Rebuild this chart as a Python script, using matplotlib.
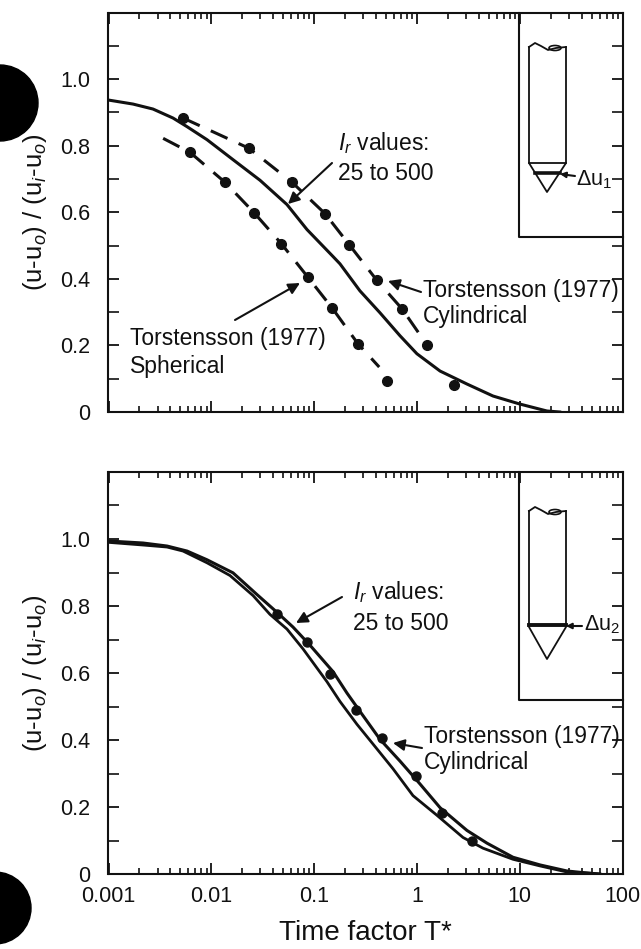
"""Piezocone dissipation curves, two panels (scanned figure style)."""

import matplotlib
matplotlib.use("Agg")
import matplotlib.pyplot as plt
from matplotlib.patches import Circle, Ellipse
from matplotlib.ticker import LogLocator, NullFormatter, FixedLocator

plt.rcParams["font.family"] = ["Liberation Sans", "DejaVu Sans"]
plt.rcParams["mathtext.fontset"] = "custom"
plt.rcParams["mathtext.rm"] = "Liberation Sans"
plt.rcParams["mathtext.it"] = "Liberation Sans:italic"

INK = "#111111"

# top panel
top_curve_t = [0.001, 0.00173, 0.00271, 0.00424, 0.00581, 0.00908, 0.01626, 0.0298, 0.0545, 0.0853, 0.1528,
               0.1786, 0.279, 0.4375, 0.685, 1.0, 1.68, 3.07, 5.5, 10, 18.4, 24.5]
top_curve_u = [0.937, 0.925, 0.910, 0.883, 0.857, 0.818, 0.758, 0.696, 0.623, 0.548, 0.467,
               0.445, 0.364, 0.298, 0.229, 0.175, 0.123, 0.084, 0.048, 0.024, 0.003, 0.0]
cyl_t = [0.00531, 0.0233, 0.061, 0.1276, 0.219, 0.409, 0.716, 1.25, 2.3]
cyl_u = [0.883, 0.792, 0.690, 0.596, 0.503, 0.395, 0.31, 0.202, 0.081]
sph_t = [0.0062, 0.0136, 0.026, 0.0479, 0.087, 0.151, 0.267, 0.512]
sph_u = [0.78, 0.69, 0.599, 0.506, 0.405, 0.311, 0.205, 0.093]
sph_dash_t = [0.0034, 0.0062, 0.0136, 0.026, 0.0479, 0.087, 0.151, 0.267, 0.43]
sph_dash_u = [0.822, 0.78, 0.69, 0.599, 0.506, 0.405, 0.311, 0.205, 0.135]

# bottom panel
upper_t = [0.001, 0.00217, 0.00371, 0.00581, 0.00908, 0.01626, 0.02786, 0.0436, 0.0624, 0.0912, 0.1528,
           0.209, 0.28, 0.4375, 0.685, 1.07, 1.68, 3.07, 4.81, 8.6, 15.8, 28.8, 45, 60]
upper_u = [0.994, 0.988, 0.979, 0.964, 0.938, 0.899, 0.834, 0.781, 0.737, 0.683, 0.604,
           0.54, 0.485, 0.402, 0.337, 0.269, 0.198, 0.130, 0.092, 0.050, 0.027, 0.009, 0.003, 0.0]
lower_t = [0.001, 0.00217, 0.00371, 0.00531, 0.00908, 0.0152, 0.0255, 0.0372, 0.0545, 0.078, 0.1334,
           0.1786, 0.261, 0.374, 0.586, 0.916, 1.57, 2.81, 4.4, 8.6, 15.8, 28.8, 45, 60]
lower_u = [0.99, 0.982, 0.976, 0.964, 0.929, 0.891, 0.831, 0.775, 0.731, 0.672, 0.574,
           0.515, 0.447, 0.388, 0.314, 0.234, 0.175, 0.109, 0.077, 0.044, 0.024, 0.006, 0.003, 0.0]
cyl2_t = [0.0436, 0.0853, 0.143, 0.256, 0.457, 0.98, 1.75, 3.44]
cyl2_u = [0.775, 0.692, 0.598, 0.491, 0.405, 0.293, 0.183, 0.10]

x_labels = ["0.001", "0.01", "0.1", "1", "10", "100"]
x_ticks = [0.001, 0.01, 0.1, 1, 10, 100]
y_ticks = [0, 0.2, 0.4, 0.6, 0.8, 1.0]
y_labels = ["0", "0.2", "0.4", "0.6", "0.8", "1.0"]
y_minor = [0.1, 0.3, 0.5, 0.7, 0.9, 1.1]

W, H = 641, 949
fig = plt.figure(figsize=(W / 100, H / 100), dpi=100)


def panel(top_px, bottom_px):
    ax = fig.add_axes([108.5 / W, 1 - bottom_px / H, 514 / W, (bottom_px - top_px) / H])
    ax.set_xscale("log")
    ax.set_xlim(0.001, 100)
    ax.set_ylim(0, 1.2)
    ax.set_xticks(x_ticks)
    ax.xaxis.set_minor_locator(LogLocator(base=10, subs=range(2, 10), numticks=12))
    ax.xaxis.set_minor_formatter(NullFormatter())
    ax.set_yticks(y_ticks)
    ax.set_yticklabels(y_labels, fontsize=15.5, color=INK)
    ax.yaxis.set_minor_locator(FixedLocator(y_minor))
    ax.tick_params(which="major", direction="in", top=True, right=True, length=8, width=1.3, pad=13, color=INK)
    ax.tick_params(which="minor", direction="in", top=True, right=True, length=4, width=1.2, color=INK)
    ax.tick_params(axis="y", which="minor", length=8)
    for s in ax.spines.values():
        s.set_linewidth(1.5)
        s.set_color(INK)
    ax.set_ylabel("(u-u$_o$) / (u$_i$-u$_o$)", fontsize=18.5, color=INK, labelpad=8)
    return ax


# top
ax1 = panel(12.5, 412)
ax1.set_xticklabels([])
ax1.plot(top_curve_t, top_curve_u, color=INK, lw=2.2)
ax1.plot(cyl_t[:-1], cyl_u[:-1], color=INK, lw=2.2, dashes=(6, 4))
ax1.plot(sph_dash_t, sph_dash_u, color=INK, lw=2.2, dashes=(6, 4))
ax1.plot(cyl_t, cyl_u, "o", color=INK, ms=7, ls="none")
ax1.plot(sph_t, sph_u, "o", color=INK, ms=7, ls="none")

# bottom
ax2 = panel(472, 874)
ax2.set_xticklabels(x_labels, fontsize=15.5, color=INK)
ax2.tick_params(axis="x", which="major", pad=9)
ax2.plot(upper_t, upper_u, color=INK, lw=2.2)
ax2.plot(lower_t, lower_u, color=INK, lw=2.0)
ax2.plot(cyl2_t, cyl2_u, "o", color=INK, ms=6.5, ls="none")
ax2.set_xlabel("Time factor T*", fontsize=20, color=INK, labelpad=9)

# overlay in picture pixels for the notes, insets and punch holes
ov = fig.add_axes([0, 0, 1, 1], facecolor="none")
ov.set_xlim(0, W)
ov.set_ylim(H, 0)
ov.axis("off")


def note(x, y, s, size=16.5):
    ov.text(x, y, s, fontsize=size, color=INK, va="center", ha="left")


def arrow(x0, y0, x1, y1, head=17):
    ov.annotate("", xy=(x1, y1), xytext=(x0, y0),
                arrowprops=dict(arrowstyle="-|>", color=INK, lw=1.5, mutation_scale=head, shrinkA=0, shrinkB=0))


note(338, 143, r"$\mathit{I}_r$ values:")
note(338, 173, "25 to 500")
arrow(332, 163, 288, 204)
note(423, 290, "Torstensson (1977)")
note(423, 317, "Cylindrical")
arrow(421, 292, 388, 281)
note(130, 338, "Torstensson (1977)")
note(130, 366, "Spherical")
arrow(235, 320, 300, 283)

note(353, 592, r"$\mathit{I}_r$ values:")
note(353, 623, "25 to 500")
arrow(342, 597, 296, 623)
note(424, 736, "Torstensson (1977)")
note(424, 763, "Cylindrical")
arrow(422, 748, 393, 743)


def cone(frame_x, frame_bottom, frame_top, shaft_top, shaft_bottom, tip_y):
    ov.plot([frame_x, frame_x, 623], [frame_top, frame_bottom, frame_bottom], color=INK, lw=1.5)
    ov.plot([566, 566, 547, 529, 529], [shaft_top + 2, shaft_bottom, tip_y, shaft_bottom, shaft_top + 2],
            color=INK, lw=1.3)
    ov.plot([529, 535, 541, 548, 556, 566], [shaft_top + 2, shaft_top - 2, shaft_top + 1, shaft_top + 5, shaft_top + 3, shaft_top + 2],
            color=INK, lw=1.3)
    ov.add_patch(Ellipse((555, shaft_top + 3), 12, 5, fill=False, ec=INK, lw=1.2))


cone(519, 237, 13, 45, 163, 192)
ov.plot([529, 566], [163, 163], color=INK, lw=1.3)
ov.plot([535, 560], [173, 173], color=INK, lw=2.6)
arrow(575, 176, 560, 174, head=8)
note(576, 180, "Δu$_1$", size=15.5)

cone(519, 700, 472, 509, 627, 659)
ov.plot([529, 566], [625, 625], color=INK, lw=2.8)
arrow(582, 626, 566, 626, head=8)
note(584, 625, "Δu$_2$", size=15.5)

# binder punch holes
ov.add_patch(Circle((0, 103), 38, color="black", clip_on=True))
ov.add_patch(Circle((-5, 908), 36, color="black", clip_on=True))

fig.savefig("out.png", dpi=100)
plt.close()
